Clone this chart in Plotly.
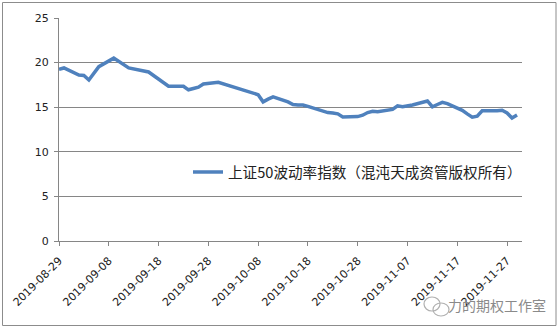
import plotly.graph_objects as go

dates = ["2019-08-29","2019-08-30","2019-09-02","2019-09-03","2019-09-04","2019-09-05","2019-09-06",
         "2019-09-09","2019-09-10","2019-09-11","2019-09-12","2019-09-16","2019-09-17","2019-09-18",
         "2019-09-19","2019-09-20","2019-09-23","2019-09-24","2019-09-25","2019-09-26","2019-09-27",
         "2019-09-30","2019-10-08","2019-10-09","2019-10-10","2019-10-11","2019-10-14","2019-10-15",
         "2019-10-16","2019-10-17","2019-10-18","2019-10-21","2019-10-22","2019-10-23","2019-10-24",
         "2019-10-25","2019-10-28","2019-10-29","2019-10-30","2019-10-31","2019-11-01","2019-11-04",
         "2019-11-05","2019-11-06","2019-11-07","2019-11-08","2019-11-11","2019-11-12","2019-11-13",
         "2019-11-14","2019-11-15","2019-11-18","2019-11-19","2019-11-20","2019-11-21","2019-11-22",
         "2019-11-25","2019-11-26","2019-11-27","2019-11-28","2019-11-29"]
values = [19.25,19.4,18.6,18.55,18.05,18.8,19.55,
          20.5,20.15,19.8,19.4,18.95,18.55,18.1,
          17.75,17.35,17.35,16.95,17.1,17.25,17.6,
          17.8,16.4,15.6,15.9,16.15,15.6,15.3,
          15.25,15.25,15.1,14.55,14.4,14.35,14.25,
          13.9,13.95,14.1,14.4,14.55,14.5,14.75,
          15.15,15.05,15.15,15.25,15.7,15.05,15.3,
          15.55,15.4,14.65,14.25,13.88,14.0,14.6,
          14.6,14.65,14.35,13.78,14.12]
tick_dates = ["2019-08-29","2019-09-08","2019-09-18","2019-09-28","2019-10-08",
              "2019-10-18","2019-10-28","2019-11-07","2019-11-17","2019-11-27"]
y_ticks = [0, 5, 10, 15, 20, 25]
series_name = "上证50波动率指数（混沌天成资管版权所有）"
watermark = "力的期权工作室"

W, H = 559, 329
L, R, T, B = 59, 37, 18, 88
PW, PH = W - L - R, H - T - B

def px(x):
    return (x - L) / PW

def py(y):
    return (H - B - y) / PH

GRID = "#868686"
fig = go.Figure()
fig.add_trace(go.Scatter(x=dates, y=values, mode="lines", name=series_name,
                         line=dict(color="#4F81BD", width=3.5)))

fig.update_layout(
    width=W, height=H, margin=dict(l=L, r=R, t=T, b=B),
    paper_bgcolor="white", plot_bgcolor="white",
    showlegend=True,
    legend=dict(x=px(188), y=py(172), xanchor="left", yanchor="middle",
                bgcolor="rgba(0,0,0,0)", font=dict(family="Noto Sans CJK SC", size=14.6, color="#222")),
    font=dict(family="DejaVu Sans", size=11, color="#222"),
)
fig.update_xaxes(type="date", range=["2019-08-29", "2019-11-30"],
                 tickvals=tick_dates, ticktext=tick_dates, tickangle=-45,
                 showgrid=False, showline=True, linecolor=GRID, linewidth=1,
                 ticks="outside", ticklen=4, tickcolor=GRID, zeroline=False,
                 ticklabelstandoff=4,
                 tickfont=dict(family="DejaVu Sans", size=11, color="#222"))
fig.update_yaxes(range=[0, 25], tickvals=y_ticks, showgrid=True, gridcolor=GRID, gridwidth=1,
                 showline=True, linecolor=GRID, linewidth=1, ticks="outside", ticklen=4,
                 tickcolor=GRID, zeroline=False, ticklabelstandoff=3,
                 tickfont=dict(family="DejaVu Sans", size=11, color="#222"))

shapes = [dict(type="rect", xref="paper", yref="paper", x0=px(2.5), x1=px(556), y0=py(325.5), y1=py(2.5),
               line=dict(color="#8c8c8c", width=1), layer="below"),
          dict(type="circle", xref="paper", yref="paper", x0=px(424), x1=px(440), y0=py(311), y1=py(297),
               line=dict(color="#b0b0b0", width=1.2)),
          dict(type="circle", xref="paper", yref="paper", x0=px(433), x1=px(449), y0=py(316), y1=py(303),
               line=dict(color="#b0b0b0", width=1.2))]
fig.update_layout(shapes=shapes)
fig.add_annotation(text=watermark, xref="paper", yref="paper", x=px(497), y=py(305),
                   xanchor="center", yanchor="middle",
                   showarrow=False, font=dict(family="Noto Sans CJK SC", size=14, color="#8a8a8a"))

fig.write_html("out.html")
